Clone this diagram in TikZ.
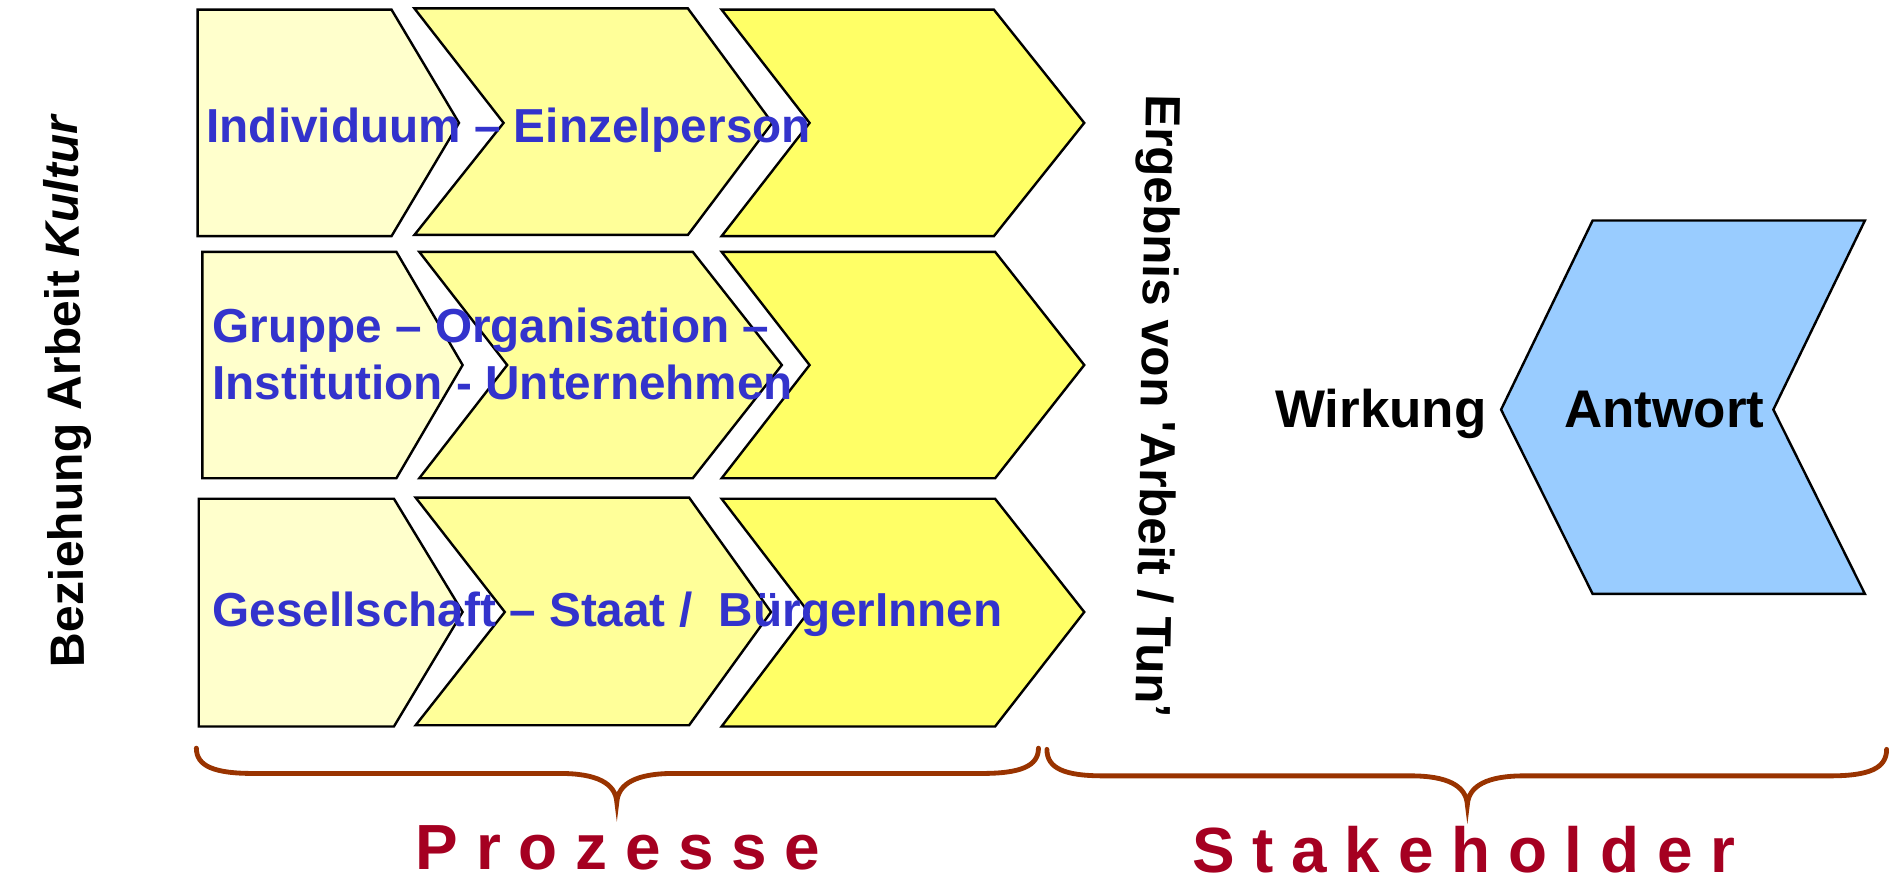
\documentclass[tikz,border=0pt]{standalone}
\usepackage{fontspec}
\setmainfont{Liberation Sans}
\definecolor{chA}{HTML}{FFFFCC}
\definecolor{chB}{HTML}{FFFF99}
\definecolor{chC}{HTML}{FFFF66}
\definecolor{chBlue}{HTML}{99CCFF}
\definecolor{txtblue}{HTML}{3333CC}
\definecolor{bracecol}{HTML}{993300}
\definecolor{labred}{HTML}{A50021}
\begin{document}
\begin{tikzpicture}[x=0.5pt,y=-0.5pt,line join=miter]
\tikzset{
  chev/.style={draw=black,line width=1pt},
  bluetext/.style={inner sep=0pt,anchor=base west,text=txtblue,font=\fontsize{19.8}{24}\selectfont\bfseries},
  blacktext/.style={inner sep=0pt,anchor=base west,text=black,font=\fontsize{22}{26}\selectfont\bfseries},
  sidetext/.style={inner sep=0pt,anchor=center,text=black,font=\fontsize{20}{24}\selectfont\bfseries},
  bracestyle/.style={draw=bracecol,line width=2pt,line cap=round},
  grouplabel/.style={inner sep=0pt,anchor=base,text=labred,font=\fontsize{26.5}{30}\selectfont\bfseries}
}
\useasboundingbox (0,0) rectangle (1568,730.5);

% row 1
\path[chev,fill=chA] (164,8) -- (325,8) -- (381,102) -- (325,196) -- (164,196) -- cycle;
\path[chev,fill=chB] (344,7) -- (571,7) -- (641,102) -- (571,195) -- (344,195) -- (418,102) -- cycle;
\path[chev,fill=chC] (599,8) -- (825,8) -- (900,102) -- (825,196) -- (599,196) -- (672,102) -- cycle;
% row 2
\path[chev,fill=chA] (168,209) -- (329,209) -- (384,303) -- (329,397) -- (168,397) -- cycle;
\path[chev,fill=chB] (348,209) -- (575,209) -- (649,303) -- (575,397) -- (348,397) -- (421,303) -- cycle;
\path[chev,fill=chC] (599,209) -- (826,209) -- (900,303) -- (826,397) -- (599,397) -- (672,303) -- cycle;
% row 3
\path[chev,fill=chA] (165,414) -- (327,414) -- (384,508) -- (327,603) -- (165,603) -- cycle;
\path[chev,fill=chB] (345,413) -- (572,413) -- (640,508) -- (572,602) -- (345,602) -- (419,508) -- cycle;
\path[chev,fill=chC] (599,414) -- (826,414) -- (900,508) -- (826,603) -- (599,603) -- (671,508) -- cycle;
% blue shape
\path[chev,fill=chBlue] (1322,183) -- (1548,183) -- (1472,340) -- (1548,493) -- (1322,493) -- (1246,340) -- cycle;

% texts
\node[bluetext] (ind) at (171,118) {Individuum – Einzelperson};
\node[bluetext] (grp) at (176,284) {Gruppe – Organisation –};
\node[bluetext] (inst) at (176,332) {Institution - Unternehmen};
\node[bluetext] (ges) at (176,520) {Gesellschaft – Staat /\ \ BürgerInnen};

\node[blacktext] (wirk) at (1058,355) {Wirkung};
\node[blacktext] (antw) at (1298,355) {Antwort};

\node[sidetext,rotate=90.7] (bez) at (57,324) {Beziehung Arbeit \textit{Kultur}};
\node[sidetext,rotate=-91,font=\fontsize{20.5}{24}\selectfont\bfseries] (erg) at (958,337) {Ergebnis von \textquotesingle Arbeit / Tun'};

% braces
\draw[bracestyle] (163,621) .. controls (163,636) and (178,642) .. (210,642) -- (465,642)
  .. controls (495,642) and (511,650) .. (512,666)
  .. controls (513,650) and (529,642) .. (559,642) -- (815,642)
  .. controls (847,642) and (862,636) .. (862,621);
\draw[bracestyle] (869,622) .. controls (869,638) and (884,644) .. (916,644) -- (1171,644)
  .. controls (1201,644) and (1217,652) .. (1218,668)
  .. controls (1219,652) and (1235,644) .. (1265,644) -- (1519,644)
  .. controls (1551,644) and (1566,638) .. (1566,622);

\node[grouplabel] (proz) at (513,722) {P r o z e s s e};
\node[grouplabel] (stake) at (1215,724) {S t a k e h o l d e r};
\end{tikzpicture}
\end{document}
